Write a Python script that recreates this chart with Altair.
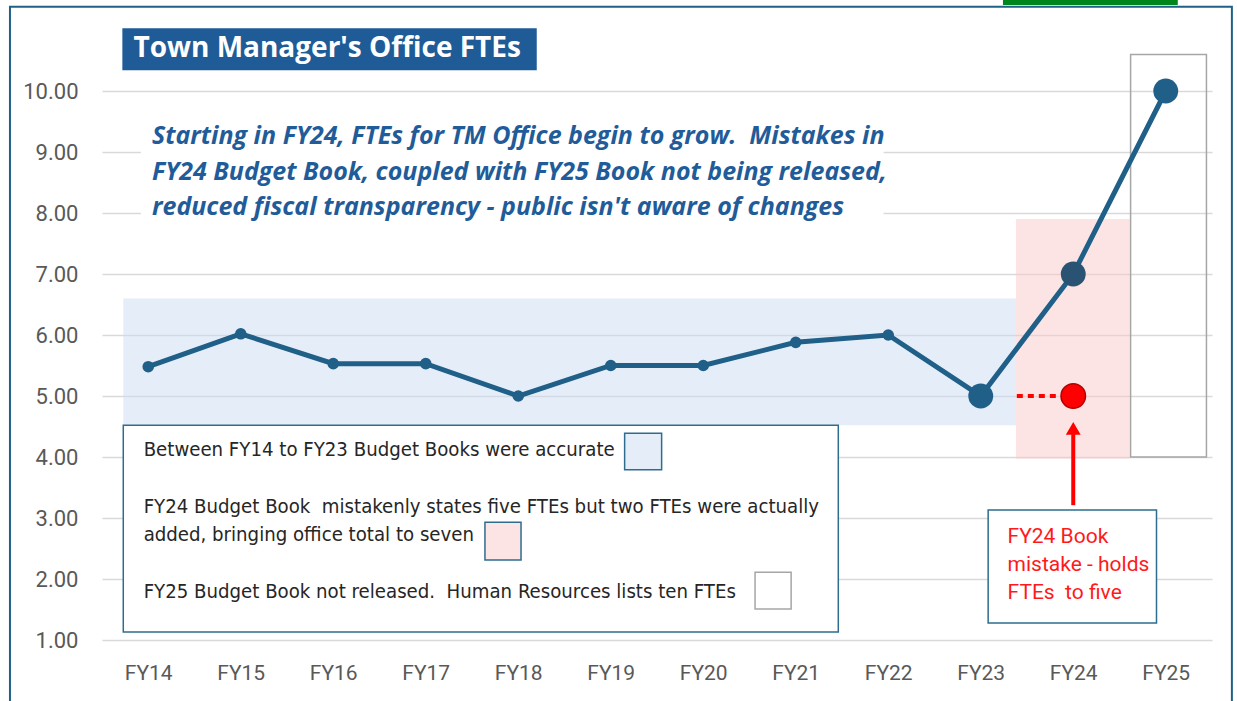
import altair as alt
import pandas as pd

# ---- data ----
years = ["FY14", "FY15", "FY16", "FY17", "FY18", "FY19", "FY20", "FY21", "FY22", "FY23", "FY24", "FY25"]
ftes = [5.48, 6.02, 5.53, 5.53, 5.00, 5.50, 5.50, 5.88, 6.00, 5.00, 7.00, 10.00]
book_fy24_fte = 5.00
y_ticks = [1, 2, 3, 4, 5, 6, 7, 8, 9, 10]

NB = "\u00a0"
title_text = "Town Manager's Office FTEs"
note_lines = [
    "Starting in FY24, FTEs for TM Office begin to grow." + NB + " Mistakes in",
    "FY24 Budget Book, coupled with FY25 Book not being released,",
    "reduced fiscal transparency - public isn't aware of changes",
]
legend_lines = [
    "Between FY14 to FY23 Budget Books were accurate",
    "FY24 Budget Book" + NB + " mistakenly states five FTEs but two FTEs were actually",
    "added, bringing office total to seven",
    "FY25 Budget Book not released." + NB + " Human Resources lists ten FTEs",
]
callout_lines = ["FY24 Book", "mistake - holds", "FTEs" + NB + " to five"]

# ---- tables ----
idx = list(range(len(years)))
df = pd.DataFrame({"i": idx, "year": years, "fte": ftes})
df_book = pd.DataFrame({"i": [years.index("FY24")], "fte": [book_fy24_fte]})

xs = alt.Scale(domain=[-0.5, 11.5], nice=False, zero=False)
ys = alt.Scale(domain=[1, 10], nice=False, zero=False)


def X(f):
    return alt.X(f, scale=xs, title=None)


def Y(f):
    return alt.Y(f, scale=ys, title=None)


def rect_layer(x, x2, y, y2, **kw):
    d = pd.DataFrame({"x": [x], "x2": [x2], "y": [y], "y2": [y2]})
    return alt.Chart(d).mark_rect(**kw).encode(x=X("x:Q"), x2="x2", y=Y("y:Q"), y2="y2")


def text_layer(lines, x, ys_, **kw):
    d = pd.DataFrame({"t": lines, "x": [x] * len(lines), "y": ys_})
    return alt.Chart(d).mark_text(align="left", baseline="middle", **kw).encode(
        x=X("x:Q"), y=Y("y:Q"), text="t:N")


label_expr = "[" + ",".join("'%s'" % y for y in years) + "][datum.value]"

# axes layer (invisible line carrying axes)
axes = alt.Chart(df).mark_line(opacity=0).encode(
    x=alt.X("i:Q", scale=xs, axis=alt.Axis(values=idx, labelExpr=label_expr, title=None,
                                            grid=False, domain=False, ticks=False,
                                            labelFontSize=21, labelColor="#595959",
                                            labelFont="Roboto", labelPadding=22)),
    y=alt.Y("fte:Q", scale=ys, axis=alt.Axis(values=y_ticks, format=".2f", title=None,
                                              domain=False, ticks=False, gridColor="#d9d9d9",
                                              gridWidth=1.5, labelFontSize=22,
                                              labelColor="#595959", labelFont="Roboto",
                                              labelPadding=24)),
)

outer = rect_layer(-1.495, 11.715, 11.38, -0.3, fillOpacity=0, stroke="#1f6088", strokeWidth=2)
green = rect_layer(9.24, 11.13, 11.41, 11.7, color="#00841c")
blue_reg = rect_layer(-0.27, 9.38, 4.52, 6.6, color="#cbddf1", opacity=0.5)
pink_reg = rect_layer(9.38, 10.61, 3.97, 7.9, color="#f9c9c9", opacity=0.5)
white_box = rect_layer(10.62, 11.44, 4.0, 10.6, fillOpacity=0, stroke="#a6a6a6", strokeWidth=1.5)
note_bg = rect_layer(-0.08, 7.95, 7.85, 9.5, color="white")
title_box = rect_layer(-0.28, 4.2, 10.34, 11.03, color="#1f5b96")
title = text_layer([title_text], -0.16, [10.69], font="Open Sans", fontSize=28,
                   fontWeight="bold", color="white")
note = text_layer(note_lines, 0.04, [9.26, 8.67, 8.10], font="Open Sans", fontSize=25,
                  fontStyle="italic", fontWeight="bold", color="#1f5c99")

legend_box = rect_layer(-0.27, 7.46, 1.13, 4.52, color="white", stroke="#2e6d8e", strokeWidth=1.5)
legend_txt = text_layer(legend_lines, -0.05, [4.11, 3.18, 2.72, 1.79],
                        font="Liberation Sans Narrow, DejaVu Sans Condensed, sans-serif",
                        fontSize=20.2, color="#262626")
sw_blue = rect_layer(5.15, 5.55, 3.79, 4.39, color="#e5eef8", stroke="#2e6d8e", strokeWidth=1.5)
sw_pink = rect_layer(3.64, 4.03, 2.31, 2.93, color="#fce4e4", stroke="#2e6d8e", strokeWidth=1.5)
sw_white = rect_layer(6.56, 6.95, 1.51, 2.11, color="white", stroke="#a6a6a6", strokeWidth=1.5)

callout_box = rect_layer(9.08, 10.9, 1.28, 3.13, color="white", stroke="#2e6d8e", strokeWidth=1.5)
callout_txt = text_layer(callout_lines, 9.29, [2.69, 2.23, 1.77], font="Roboto",
                         fontSize=21, color="#ff1a1a")

arrow_d = pd.DataFrame({"x": [10.0], "y": [3.21], "y2": [4.45]})
arrow = alt.Chart(arrow_d).mark_rule(color="#ff0000", strokeWidth=4).encode(
    x=X("x:Q"), y=Y("y:Q"), y2="y2")
head_d = pd.DataFrame({"x": [10.0], "y": [4.47]})
head = alt.Chart(head_d).mark_point(shape="triangle-up", filled=True, color="#ff0000",
                                    size=220, opacity=1).encode(x=X("x:Q"), y=Y("y:Q"))

dot_d = pd.DataFrame({"x": [9.39], "x2": [9.83], "y": [book_fy24_fte]})
dotted = alt.Chart(dot_d).mark_rule(color="#ff0000", strokeWidth=4, strokeDash=[6, 5]).encode(
    x=X("x:Q"), x2="x2", y=Y("y:Q"))

enc = dict(x=X("i:Q"), y=Y("fte:Q"))
line = alt.Chart(df).mark_line(color="#1f5f88", strokeWidth=5).encode(**enc)
small_pts = alt.Chart(df).transform_filter("datum.i < 9").mark_circle(
    color="#1f5f88", size=135, opacity=1).encode(**enc)
big_pts = alt.Chart(df).transform_filter("datum.i == 9 || datum.i == 11").mark_circle(
    color="#1f5f88", size=620, opacity=1).encode(**enc)
big24 = alt.Chart(df).transform_filter("datum.i == 10").mark_circle(
    color="#2a5272", size=620, opacity=1).encode(**enc)
red_pt = alt.Chart(df_book).mark_point(filled=True, color="#ff0000", size=600, opacity=1,
                                        stroke="#b30000", strokeWidth=1.5).encode(**enc)

chart = alt.layer(
    axes, outer, green, blue_reg, pink_reg, white_box, note_bg, title_box, title, note,
    legend_box, legend_txt, sw_blue, sw_pink, sw_white,
    line, small_pts, big_pts, big24, dotted, red_pt,
    arrow, head, callout_box, callout_txt,
).properties(
    width=1110, height=549,
    autosize=alt.AutoSizeParams(type="none"),
    padding={"left": 102, "top": 91, "right": 25, "bottom": 61},
    background="white",
).configure_view(stroke=None)

chart.save("out.html", embed_options={"renderer": "svg", "actions": False})
